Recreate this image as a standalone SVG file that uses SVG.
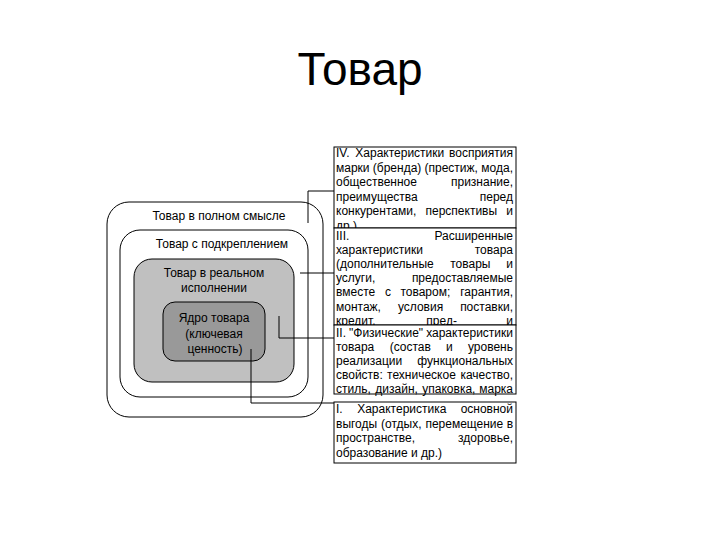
<svg xmlns="http://www.w3.org/2000/svg" width="720" height="540" viewBox="0 0 720 540">
<style>
text{font-family:"Liberation Sans",Arial,sans-serif;fill:#000}
.t{font-size:12px}
.c{text-anchor:middle}
.e{text-anchor:end}
.ring{stroke:#000;stroke-width:1}
.box{fill:#fff;stroke:#000;stroke-width:1}
.conn{fill:none;stroke:#000;stroke-width:1}
</style>
<rect width="720" height="540" fill="#fff"/>
<text id="title" x="360" y="85" font-size="46" text-anchor="middle">Товар</text>

<g id="full">
<rect class="ring" x="107" y="202" width="216" height="215" rx="22" fill="#fff"/>
<text class="t c" x="219" y="220">Товар в полном смысле</text>
</g>
<g id="augmented">
<rect class="ring" x="120" y="230" width="188" height="167" rx="20" fill="#fff"/>
<text class="t c" x="222" y="248">Товар с подкреплением</text>
</g>
<g id="actual">
<rect class="ring" x="134" y="259" width="160" height="123" rx="18" fill="#c0c0c0"/>
<text class="t c" x="214" y="277">Товар в реальном</text>
<text class="t c" x="214" y="292">исполнении</text>
</g>
<g id="core">
<rect class="ring" x="163" y="302" width="102" height="59" rx="12" fill="#999"/>
<text class="t c" x="214" y="322">Ядро товара</text>
<text class="t c" x="214" y="338">(ключевая</text>
<text class="t c" x="215" y="353">ценность)</text>
</g>

<g id="connectors">
<polyline class="conn" points="308,223 308,191 334,191"/>
<polyline class="conn" points="300,273 334,273"/>
<polyline class="conn" points="279,316 279,338 334,338"/>
<polyline class="conn" points="251,349 251,403 334,403"/>
</g>

<g id="box4">
<rect class="box" x="334" y="147" width="182" height="81"/>
<text class="t" y="157"><tspan x="336">IV.</tspan><tspan x="355.3">Характеристики</tspan><tspan x="513" class="e">восприятия</tspan></text>
<text class="t" y="171.5"><tspan x="336">марки</tspan><tspan x="372.8">(бренда)</tspan><tspan x="424.5">(престиж,</tspan><tspan x="513" class="e">мода,</tspan></text>
<text class="t" y="186"><tspan x="336">общественное</tspan><tspan x="513" class="e">признание,</tspan></text>
<text class="t" y="200.5"><tspan x="336">преимущества</tspan><tspan x="513" class="e">перед</tspan></text>
<text class="t" y="215"><tspan x="336">конкурентами,</tspan><tspan x="425.5">перспективы</tspan><tspan x="513" class="e">и</tspan></text>
<text class="t" x="336" y="229.5">др.)</text>
</g>

<g id="box3">
<rect class="box" x="334" y="228" width="182" height="97"/>
<text class="t" y="239.5"><tspan x="336">III.</tspan><tspan x="513" class="e">Расширенные</tspan></text>
<text class="t" y="253.7"><tspan x="336">характеристики</tspan><tspan x="513" class="e">товара</tspan></text>
<text class="t" y="267.9"><tspan x="336">(дополнительные</tspan><tspan x="450.2">товары</tspan><tspan x="513" class="e">и</tspan></text>
<text class="t" y="282.1"><tspan x="336">услуги,</tspan><tspan x="513" class="e">предоставляемые</tspan></text>
<text class="t" y="296.3"><tspan x="336">вместе</tspan><tspan x="384.9">с</tspan><tspan x="400.4">товаром;</tspan><tspan x="513" class="e">гарантия,</tspan></text>
<text class="t" y="310.5"><tspan x="336">монтаж,</tspan><tspan x="397.9">условия</tspan><tspan x="513" class="e">поставки,</tspan></text>
<text class="t" y="324.7"><tspan x="336">кредит,</tspan><tspan x="426.3">пред-</tspan><tspan x="513" class="e">и</tspan></text>
</g>

<g id="box2">
<rect class="box" x="334" y="325" width="182" height="69"/>
<text class="t" y="336.6"><tspan x="336">II.</tspan><tspan x="349">"Физические"</tspan><tspan x="513" class="e">характеристики</tspan></text>
<text class="t" y="350.7"><tspan x="336">товара</tspan><tspan x="389.7">(состав</tspan><tspan x="446">и</tspan><tspan x="513" class="e">уровень</tspan></text>
<text class="t" y="364.8"><tspan x="336">реализации</tspan><tspan x="513" class="e">функциональных</tspan></text>
<text class="t" y="378.9"><tspan x="336">свойств:</tspan><tspan x="387.1">техническое</tspan><tspan x="513" class="e">качество,</tspan></text>
<text class="t" y="393"><tspan x="336">стиль,</tspan><tspan x="375.3">дизайн,</tspan><tspan x="422.3">упаковка,</tspan><tspan x="513" class="e">марка</tspan></text>
</g>

<g id="box1">
<rect class="box" x="334" y="402" width="182" height="61"/>
<text class="t" y="413"><tspan x="336">I.</tspan><tspan x="357.2">Характеристика</tspan><tspan x="513" class="e">основной</tspan></text>
<text class="t" y="427.5"><tspan x="336">выгоды</tspan><tspan x="381">(отдых,</tspan><tspan x="425.4">перемещение</tspan><tspan x="513" class="e">в</tspan></text>
<text class="t" y="442"><tspan x="336">пространстве,</tspan><tspan x="513" class="e">здоровье,</tspan></text>
<text class="t" x="336" y="456.5">образование и др.)</text>
</g>
</svg>
